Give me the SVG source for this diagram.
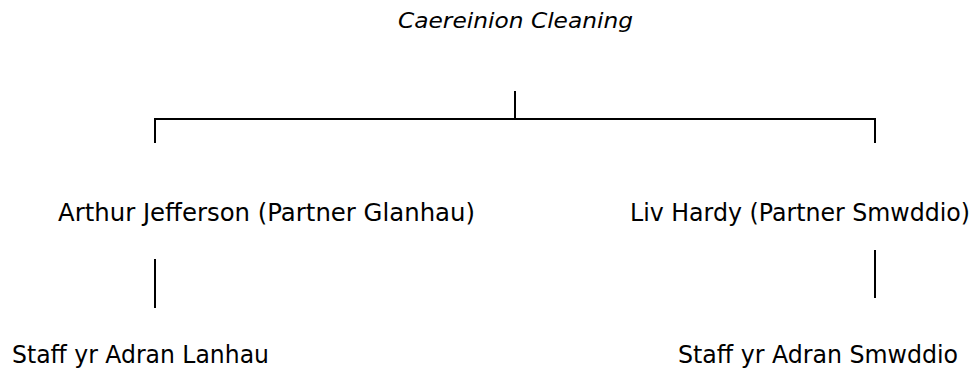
<svg xmlns="http://www.w3.org/2000/svg" width="976" height="371" viewBox="0 0 976 371">
<style>
text{font-family:"DejaVu Sans","Liberation Sans",sans-serif;font-size:24px;fill:#000}
.title{font-style:italic;font-size:22px}
.conn line{stroke:#000;stroke-width:2;fill:none}
</style>
<rect width="976" height="371" fill="#fff"/>
<g id="connectors" class="conn">
<line x1="515" y1="91" x2="515" y2="119"/>
<line x1="154" y1="119" x2="876" y2="119"/>
<line x1="155" y1="118" x2="155" y2="143"/>
<line x1="875" y1="118" x2="875" y2="143"/>
<line x1="155" y1="259" x2="155" y2="308"/>
<line x1="875" y1="250" x2="875" y2="298"/>
</g>
<g id="node-root"><text class="title" x="398" y="28" textLength="235" lengthAdjust="spacingAndGlyphs">Caereinion Cleaning</text></g>
<g id="node-arthur"><text x="58" y="221" textLength="417" lengthAdjust="spacingAndGlyphs">Arthur Jefferson (Partner Glanhau)</text></g>
<g id="node-liv"><text x="630" y="221" textLength="340" lengthAdjust="spacingAndGlyphs">Liv Hardy (Partner Smwddio)</text></g>
<g id="node-staff-lanhau"><text x="12" y="363" textLength="257" lengthAdjust="spacingAndGlyphs">Staff yr Adran Lanhau</text></g>
<g id="node-staff-smwddio"><text x="678" y="363" textLength="280" lengthAdjust="spacingAndGlyphs">Staff yr Adran Smwddio</text></g>
</svg>
